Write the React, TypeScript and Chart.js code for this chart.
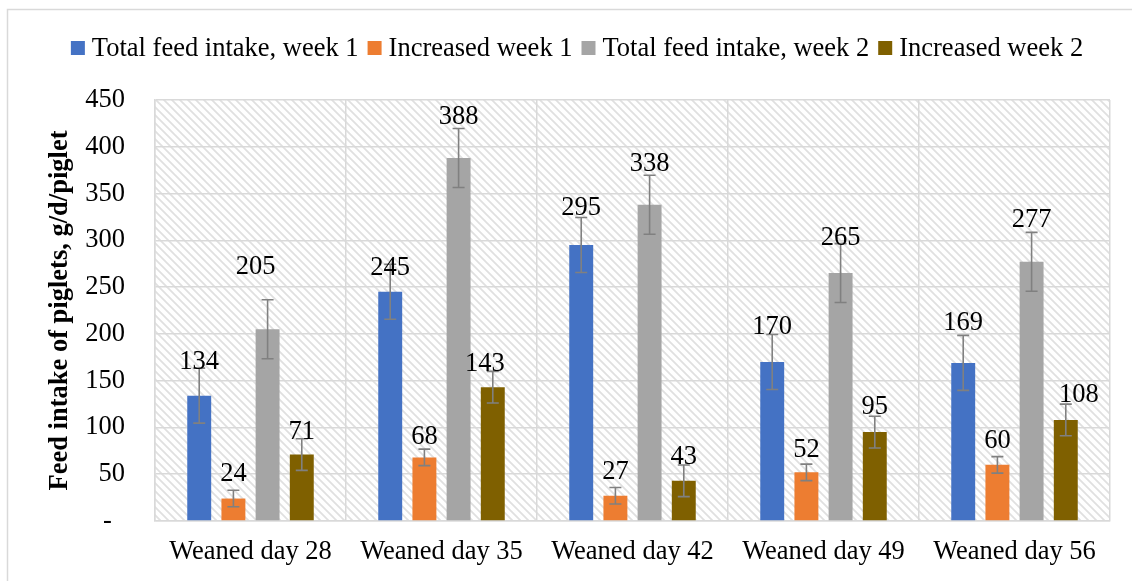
import React, { useEffect, useRef } from "react";
import { Chart, registerables } from "chart.js";

Chart.register(...registerables);

// ---------- data ----------
const categories = ["Weaned day 28", "Weaned day 35", "Weaned day 42", "Weaned day 49", "Weaned day 56"];
const seriesNames = ["Total feed intake, week 1", "Increased week 1", "Total feed intake, week 2", "Increased week 2"];
const totalWeek1 = [134, 245, 295, 170, 169];
const increasedWeek1 = [24, 68, 27, 52, 60];
const totalWeek2 = [205, 388, 338, 265, 277];
const increasedWeek2 = [71, 143, 43, 95, 108];
const errTotalWeek1 = [29.4, 29.4, 29.4, 29.4, 29.4];
const errIncreasedWeek1 = [8.8, 8.8, 8.8, 8.8, 8.8];
const errTotalWeek2 = [31.5, 31.5, 31.5, 31.5, 31.5];
const errIncreasedWeek2 = [16.9, 16.9, 16.9, 16.9, 16.9];
const yTickValues = [0, 50, 100, 150, 200, 250, 300, 350, 400, 450];

// ---------- styles ----------
const colors = ["#4472C4", "#ED7D31", "#A5A5A5", "#7F6000"];
const FONT = '"Liberation Serif", "Times New Roman", serif';
const FS = 26.5;
const GRID = "#d9d9d9";
// label placement (px above bar top, px horizontal nudge)
const labelLift = [
  [36, 26, 39, 37, 42],
  [27, 22, 26, 24, 26],
  [64, 43, 43, 37, 44],
  [25, 25, 26, 27, 27],
];
const labelShift = [
  [0, 0, 0, 0, 0],
  [0, 0, 0, 0, 0],
  [-12, 0, 0, 0, 0],
  [0, -8, 0, 0, 13],
];

function makePattern(ctx: CanvasRenderingContext2D) {
  const p = document.createElement("canvas");
  p.width = 8;
  p.height = 8;
  const c = p.getContext("2d")!;
  c.fillStyle = "#ffffff";
  c.fillRect(0, 0, 8, 8);
  c.strokeStyle = "#e0e0e0";
  c.lineWidth = 1.8;
  c.beginPath();
  c.moveTo(-2, -2);
  c.lineTo(10, 10);
  c.moveTo(-10, -2);
  c.lineTo(2, 10);
  c.moveTo(6, -2);
  c.lineTo(18, 10);
  c.stroke();
  return ctx.createPattern(p, "repeat");
}

const decorPlugin = {
  id: "decor",
  beforeDraw(chart: any) {
    const { ctx, chartArea } = chart;
    ctx.save();
    ctx.fillStyle = "#ffffff";
    ctx.fillRect(0, 0, chart.width, chart.height);
    // outer frame
    ctx.strokeStyle = GRID;
    ctx.lineWidth = 1.5;
    ctx.beginPath();
    ctx.moveTo(7.5, chart.height + 2);
    ctx.lineTo(7.5, 9.5);
    ctx.lineTo(chart.width + 2, 9.5);
    ctx.stroke();
    const pat = makePattern(ctx);
    if (pat) {
      ctx.fillStyle = pat;
      ctx.fillRect(chartArea.left, chartArea.top, chartArea.right - chartArea.left, chartArea.bottom - chartArea.top);
    }
    ctx.restore();
  },
  afterDatasetsDraw(chart: any) {
    const { ctx } = chart;
    const yScale = chart.scales.y;
    const errs = [errTotalWeek1, errIncreasedWeek1, errTotalWeek2, errIncreasedWeek2];
    ctx.save();
    chart.data.datasets.forEach((ds: any, di: number) => {
      const meta = chart.getDatasetMeta(di);
      meta.data.forEach((bar: any, i: number) => {
        const v = ds.data[i];
        const e = errs[di][i];
        const x = bar.x;
        const yTop = yScale.getPixelForValue(v + e);
        const yBot = yScale.getPixelForValue(v - e);
        ctx.strokeStyle = "#808080";
        ctx.lineWidth = 1.6;
        ctx.beginPath();
        ctx.moveTo(x, yTop);
        ctx.lineTo(x, yBot);
        ctx.moveTo(x - 6, yTop);
        ctx.lineTo(x + 6, yTop);
        ctx.moveTo(x - 6, yBot);
        ctx.lineTo(x + 6, yBot);
        ctx.stroke();
      });
    });
    ctx.font = `${FS}px ${FONT}`;
    ctx.fillStyle = "#000000";
    ctx.textAlign = "center";
    ctx.textBaseline = "alphabetic";
    chart.data.datasets.forEach((ds: any, di: number) => {
      const meta = chart.getDatasetMeta(di);
      meta.data.forEach((bar: any, i: number) => {
        const cy = bar.y - labelLift[di][i];
        ctx.fillText(String(ds.data[i]), bar.x + labelShift[di][i], cy + 9);
      });
    });
    ctx.restore();
  },
  afterDraw(chart: any) {
    const { ctx } = chart;
    ctx.save();
    ctx.font = `${FS}px ${FONT}`;
    const box = 14;
    const gapText = 7;
    const gapItem = 9;
    const widths = seriesNames.map((n) => ctx.measureText(n).width);
    const total = widths.reduce((a, w) => a + box + gapText + w, 0) + gapItem * (seriesNames.length - 1);
    let x = 577 - total / 2;
    const cy = 48;
    ctx.textAlign = "left";
    ctx.textBaseline = "alphabetic";
    seriesNames.forEach((n, i) => {
      ctx.fillStyle = colors[i];
      ctx.fillRect(x, cy - box / 2, box, box);
      x += box + gapText;
      ctx.fillStyle = "#000000";
      ctx.fillText(n, x, cy + 8);
      x += widths[i] + gapItem;
    });
    ctx.restore();
  },
};

export default function App() {
  const ref = useRef<HTMLCanvasElement>(null);
  useEffect(() => {
    document.body.style.margin = "0";
    const canvas = ref.current!;
    const series = [totalWeek1, increasedWeek1, totalWeek2, increasedWeek2];
    const chart = new Chart(canvas, {
      type: "bar",
      data: {
        labels: categories,
        datasets: series.map((d, i) => ({
          label: seriesNames[i],
          data: d,
          backgroundColor: colors[i],
          borderWidth: 0,
          categoryPercentage: 0.716,
          barPercentage: 0.7,
        })),
      },
      options: {
        responsive: false,
        animation: false,
        layout: { padding: { top: 100, right: 22, left: 0, bottom: 0 } },
        plugins: { legend: { display: false }, tooltip: { enabled: false } },
        scales: {
          x: {
            grid: { color: GRID, lineWidth: 1.5, drawTicks: false, offset: true },
            border: { display: true, color: GRID, width: 1.5 },
            ticks: { color: "#000000", font: { family: FONT, size: FS }, padding: 15, maxRotation: 0 },
            afterFit: (s: any) => {
              s.height = 60;
            },
          },
          y: {
            min: 0,
            max: 450,
            afterBuildTicks: (s: any) => {
              s.ticks = yTickValues.map((v) => ({ value: v }));
            },
            grid: { color: GRID, lineWidth: 1.5, drawTicks: false },
            border: { display: true, color: GRID, width: 1.5 },
            ticks: {
              color: "#000000",
              font: { family: FONT, size: FS },
              padding: 30,
              callback: (v: any) => (Number(v) === 0 ? "-  " : String(v)),
            },
            title: {
              display: true,
              text: "Feed intake of piglets, g/d/piglet",
              color: "#000000",
              font: { family: FONT, size: FS, weight: "bold" },
              padding: { top: 44, bottom: 0 },
            },
            afterFit: (s: any) => {
              s.width = 155;
            },
          },
        },
      },
      plugins: [decorPlugin],
    });
    return () => chart.destroy();
  }, []);
  return (
    <div style={{ position: "absolute", left: 0, top: 0, width: 1132, height: 581 }}>
      <canvas ref={ref} width={1132} height={581} />
    </div>
  );
}
